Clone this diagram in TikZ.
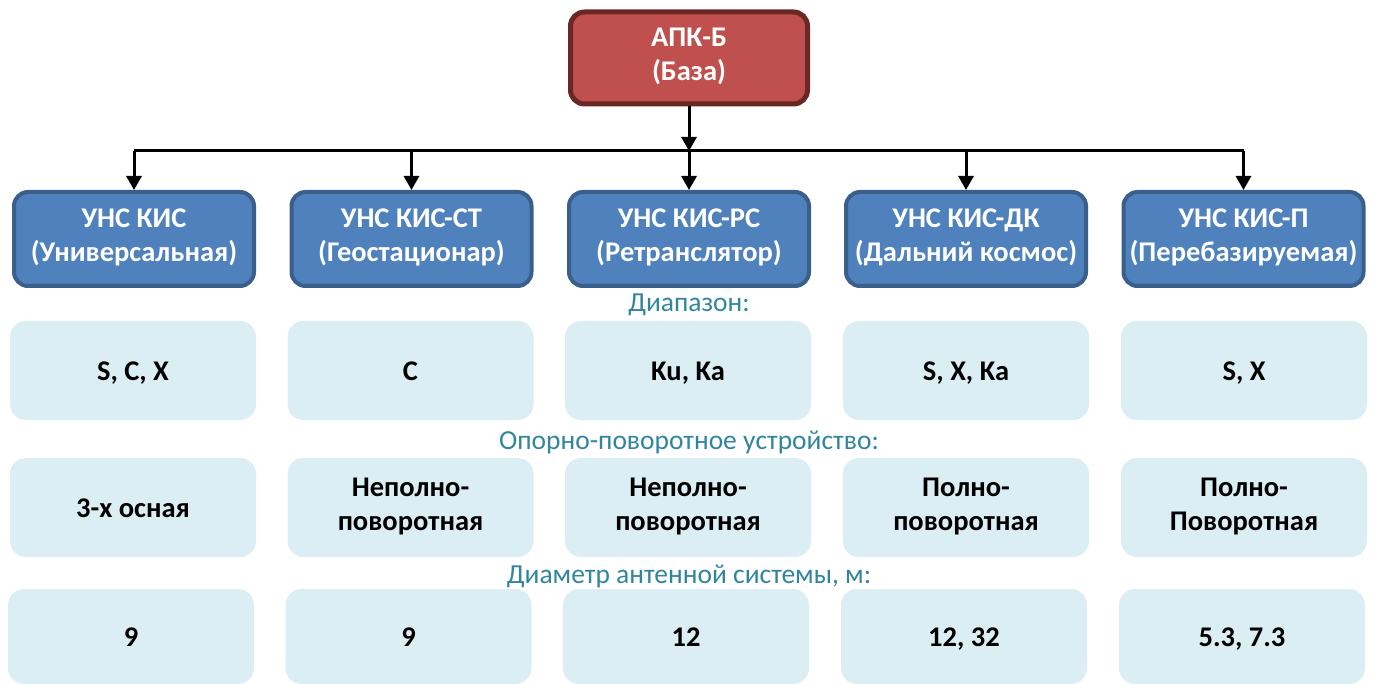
\documentclass[tikz,border=0pt]{standalone}
\usepackage{fontspec}
\setmainfont{Carlito}
\usetikzlibrary{arrows.meta}
\definecolor{redfill}{HTML}{C0504D}
\definecolor{redline}{HTML}{6B2724}
\definecolor{bluefill}{HTML}{4F81BD}
\definecolor{blueline}{HTML}{3A5F8B}
\definecolor{lightfill}{HTML}{DBEEF3}
\definecolor{tealtext}{HTML}{31859C}
\begin{document}
\begin{tikzpicture}[x=1pt,y=-1pt,
  boxtext/.style={inner sep=0pt,align=center,font=\fontsize{28.5}{34}\selectfont\bfseries,
    execute at begin node={\rule{0pt}{27pt}},
    execute at end node={\rule[-7pt]{0pt}{0pt}}},
  topbox/.style={boxtext,draw=redline,fill=redfill,line width=5pt,rounded corners=14pt,
    minimum width=237pt,minimum height=92pt,text=white},
  unitbox/.style={boxtext,draw=blueline,fill=bluefill,line width=4pt,rounded corners=14pt,
    minimum width=240pt,minimum height=94pt,text=white},
  propbox/.style={boxtext,fill=lightfill,rounded corners=16pt,
    minimum width=246pt,minimum height=99pt,text=black},
  caption/.style={text=tealtext,font=\fontsize{27.5}{30}\selectfont,inner sep=0pt},
  conn/.style={line width=3pt,draw=black},
  arr/.style={conn,-{Triangle[width=15pt,length=14pt]}}
]
\useasboundingbox (0,0) rectangle (1375,684);

\node[topbox] (top) at (689,58) {АПК-Б\\(База)};

\node[unitbox] (u1) at (134,239) {УНС КИС\\(Универсальная)};
\node[unitbox] (u2) at (411.5,239) {УНС КИС-СТ\\(Геостационар)};
\node[unitbox] (u3) at (689,239) {УНС КИС-РС\\(Ретранслятор)};
\node[unitbox] (u4) at (966,239) {УНС КИС-ДК\\(Дальний космос)};
\node[unitbox] (u5) at (1243.5,239) {УНС КИС-П\\(Перебазируемая)};

\coordinate (bus) at (689,151);
\coordinate (busL) at (134,151);
\coordinate (busR) at (1243.5,151);
\draw[conn] (busL) -- (busR);
\draw[arr] (top) -- (bus);
\foreach \i in {1,...,5} {
  \draw[arr] (u\i.north |- bus) -- (u\i.north);
}

\node[caption] (c1) at (689,305) {Диапазон:};
\node[propbox] (a1) at (133,370.5) {S, C, X};
\node[propbox] (a2) at (410.5,370.5) {C};
\node[propbox] (a3) at (688,370.5) {Ku, Ka};
\node[propbox] (a4) at (966,370.5) {S, X, Ka};
\node[propbox] (a5) at (1244,370.5) {S, X};

\node[caption] (c2) at (689,442) {Опорно-поворотное устройство:};
\node[propbox] (b1) at (133,507.5) {3-х осная};
\node[propbox] (b2) at (410.5,507.5) {Неполно-\\поворотная};
\node[propbox] (b3) at (688,507.5) {Неполно-\\поворотная};
\node[propbox] (b4) at (966,507.5) {Полно-\\поворотная};
\node[propbox] (b5) at (1244,507.5) {Полно-\\Поворотная};

\node[caption] (c3) at (689,576) {Диаметр антенной системы, м:};
\node[propbox,minimum height=95pt] (d1) at (131,636.5) {9};
\node[propbox,minimum height=95pt] (d2) at (408.5,636.5) {9};
\node[propbox,minimum height=95pt] (d3) at (686,636.5) {12};
\node[propbox,minimum height=95pt] (d4) at (964,636.5) {12, 32};
\node[propbox,minimum height=95pt] (d5) at (1242,636.5) {5.3, 7.3};
\end{tikzpicture}
\end{document}
